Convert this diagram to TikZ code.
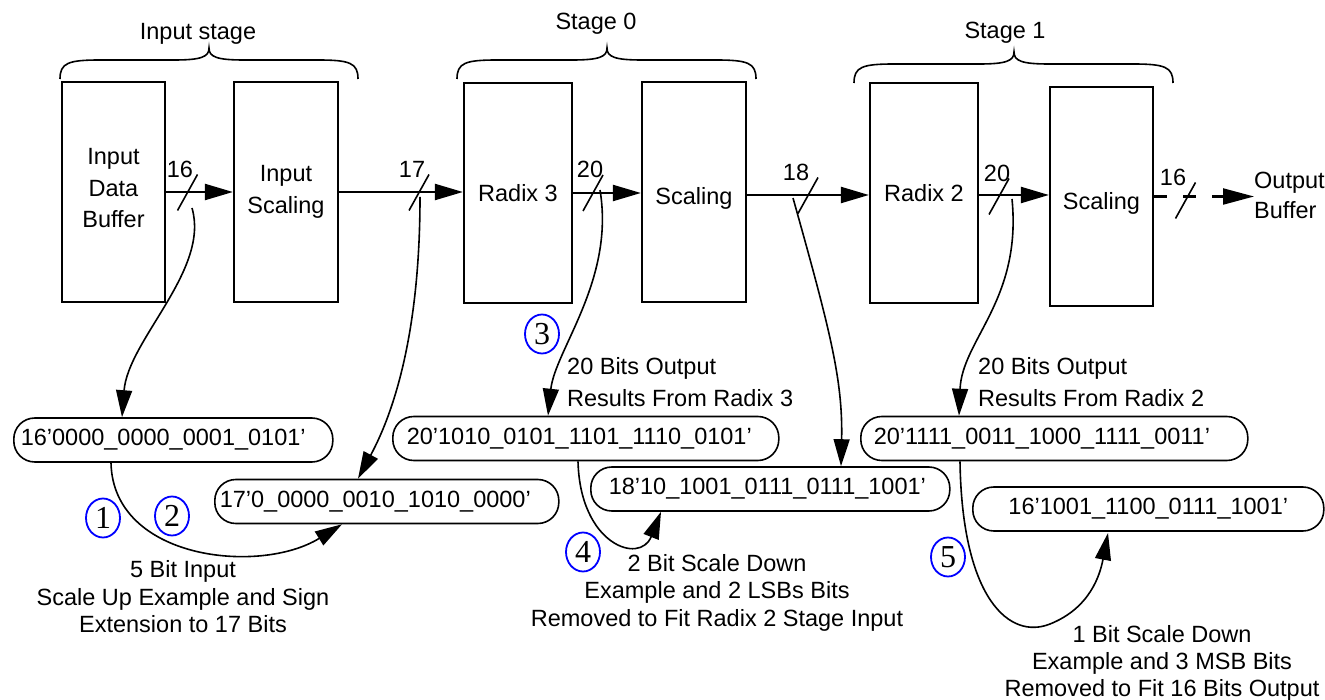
\documentclass[tikz,border=0pt]{standalone}
\usepackage{fontspec}
\setmainfont{Liberation Sans}
\newfontfamily\serifnum{Liberation Serif}
\usetikzlibrary{arrows.meta,shapes.geometric,calc}
\definecolor{numblue}{RGB}{0,0,255}
\newcommand\stagebrace[5]{%
  \draw[brc] (#1,#5) .. controls (#1,{#4+15}) and ({#1+8},{#4+12}) .. ({#1+40},{#4+12})
    -- ({#2-35},{#4+12}) .. controls ({#2-8},{#4+12}) and (#2,{#4+9}) .. (#2,#4)
    .. controls (#2,{#4+9}) and ({#2+8},{#4+12}) .. ({#2+35},{#4+12})
    -- ({#3-40},{#4+12}) .. controls ({#3-8},{#4+12}) and (#3,{#4+15}) .. (#3,#5);}
\begin{document}
\begin{tikzpicture}[x=1pt,y=-1pt,
  every node/.style={font=\fontsize{23.5}{31.5}\selectfont, inner sep=0pt},
  blk/.style={draw, line width=2.2pt, align=center},
  rbox/.style={draw, line width=1.6pt, rounded corners=21pt, minimum height=44pt, anchor=west, align=left},
  num/.style={draw=numblue, ellipse, line width=1.8pt, minimum width=34pt, minimum height=39pt, font=\serifnum\fontsize{32}{32}\selectfont},
  flow/.style={line width=2.2pt, -{Triangle[length=28pt,width=16pt]}},
  curv/.style={line width=1.6pt, -{Triangle[length=27pt,width=16pt]}},
  slashmark/.style={line width=1.6pt},
  brc/.style={line width=1.6pt},
  lbl/.style={font=\fontsize{23.5}{27.5}\selectfont, align=center},
  lbll/.style={font=\fontsize{23.5}{32}\selectfont, align=left, anchor=west},
]
\useasboundingbox (0,0) rectangle (1325,700);

% stage braces and titles
\stagebrace{60}{209}{358}{48}{79}
\stagebrace{457}{607}{756}{48}{79}
\stagebrace{854}{1014}{1173}{52}{83}
\node (t0) at (198,34) {Input stage};
\node (t1) at (596,24) {Stage 0};
\node (t2) at (1005,33) {Stage 1};

% blocks
\node[blk, minimum width=103pt, minimum height=220pt] (b1) at (113.5,192) {Input\\Data\\Buffer\rule[-8pt]{0pt}{8pt}};
\node[blk, minimum width=104pt, minimum height=220pt] (b2) at (286,192) {Input\\Scaling};
\node[blk, minimum width=108pt, minimum height=220pt] (b3) at (518,193) {Radix 3};
\node[blk, minimum width=104pt, minimum height=220pt] (b4) at (694,192) {\raisebox{0pt}[26pt][0pt]{Scaling}};
\node[blk, minimum width=108pt, minimum height=220pt] (b5) at (924,193) {Radix 2};
\node[blk, minimum width=103pt, minimum height=219pt] (b6) at (1101.5,196.5) {\raisebox{0pt}[26pt][0pt]{Scaling}};
\node[anchor=west, align=left, font=\fontsize{23.5}{30}\selectfont] (out) at (1254,195) {Output\\Buffer};

% flow arrows
\draw[flow] (b1.east) -- (b2.west);
\draw[flow] (b2.east) -- (b2.east -| b3.west);
\draw[flow] (b3.east) -- (b3.east -| b4.west);
\draw[flow] ([yshift=-3pt]b4.east) -- ([yshift=-3pt]b4.east -| b5.west);
\draw[flow] ([yshift=-2pt]b5.east) -- ([yshift=-2pt]b5.east -| b6.west);
\draw[line width=2.2pt, dash pattern=on 13pt off 16pt, -{Triangle[length=31pt,width=16pt]}] (b6.east) -- (b6.east -| out.west);

% bus width slashes
\coordinate (s1) at (187.5,192.5);
\coordinate (s2) at (419,192.5);
\coordinate (s3) at (593,193);
\coordinate (s4) at (808,195.5);
\coordinate (s5) at (999,196.5);
\coordinate (s6) at (1185.5,200.5);
\foreach \s in {s1,s2,s3,s4,s5,s6}
  \draw[slashmark] ($(\s)+(-10,18)$) -- ($(\s)+(10,-18)$);
\node (w1) at (180,169) {16};
\node (w2) at (412,169) {17};
\node (w3) at (590,169) {20};
\node (w4) at (796,172) {18};
\node (w5) at (997,173) {20};
\node (w6) at (1173,177) {16};

% value boxes
\node[rbox, inner xsep=7pt, text width=305pt] (r1) at (13,440) {16’0000\_0000\_0001\_0101’};
\node[rbox, inner xsep=5pt, text width=334pt] (r2) at (214,501.5) {17’0\_0000\_0010\_1010\_0000’};
\node[rbox, inner xsep=14pt, text width=358pt] (r3) at (392,438.5) {20’1010\_0101\_1101\_1110\_0101’};
\node[rbox, inner xsep=18pt, text width=323pt] (r4) at (590,489) {18’10\_1001\_0111\_0111\_1001’};
\node[rbox, inner xsep=13pt, text width=361pt] (r5) at (860,438.5) {20’1111\_0011\_1000\_1111\_0011’};
\node[rbox, align=center, inner xsep=5pt, text width=341pt] (r6) at (972,509) {16’1001\_1100\_0111\_1001’};

% curved arrows from buses to values
\coordinate (c1) at (192,208);
\coordinate (c2) at (420,197);
\coordinate (c3) at (600,190);
\coordinate (c4) at (793,198);
\coordinate (c5) at (1012,199);
\draw[curv] (c1) .. controls (210,270) and (128,340) .. (122,0 |- r1.north);
\draw[curv] (c2) .. controls (420,330) and (395,410) .. (358,0 |- r2.north);
\draw[curv] (c3) .. controls (615,280) and (555,350) .. (548,0 |- r3.north);
\draw[curv] (c4) .. controls (830,330) and (843,380) .. (841,0 |- r4.north);
\draw[curv] (c5) .. controls (1022,300) and (962,340) .. (959,0 |- r5.north);

% scaling arrows
\draw[curv] (111,0 |- r1.south) .. controls (113,560) and (260,575) .. (342,0 |- r2.south);
\draw[curv] (578,0 |- r3.south) .. controls (580,545) and (640,565) .. (661,0 |- r4.south);
\draw[curv] (960,0 |- r5.south) .. controls (962,600) and (1010,640) .. (1050,624)
  .. controls (1090,608) and (1100,575) .. (1108,533);

% step numbers
\node[num] (n1) at (103,518) {1};
\node[num] (n2) at (172,516) {2};
\node[num] (n3) at (542,334) {3};
\node[num] (n4) at (583,552) {4};
\node[num] (n5) at (948,557) {5};

% explanations
\node[lbl] (e1) at (183,597) {5 Bit Input\\Scale Up Example and Sign\\Extension to 17 Bits};
\node[lbll] (e2) at (567,382.5) {20 Bits Output\\Results From Radix 3};
\node[lbl] (e3) at (717,592.5) {2 Bit Scale Down\\Example and 2 LSBs Bits\\Removed to Fit Radix 2 Stage Input};
\node[lbll] (e4) at (978,382.5) {20 Bits Output\\Results From Radix 2};
\node[lbl, font=\fontsize{23.5}{27}\selectfont] (e5) at (1162,663) {1 Bit Scale Down\\Example and 3 MSB Bits\\Removed to Fit 16 Bits Output};
\end{tikzpicture}
\end{document}
